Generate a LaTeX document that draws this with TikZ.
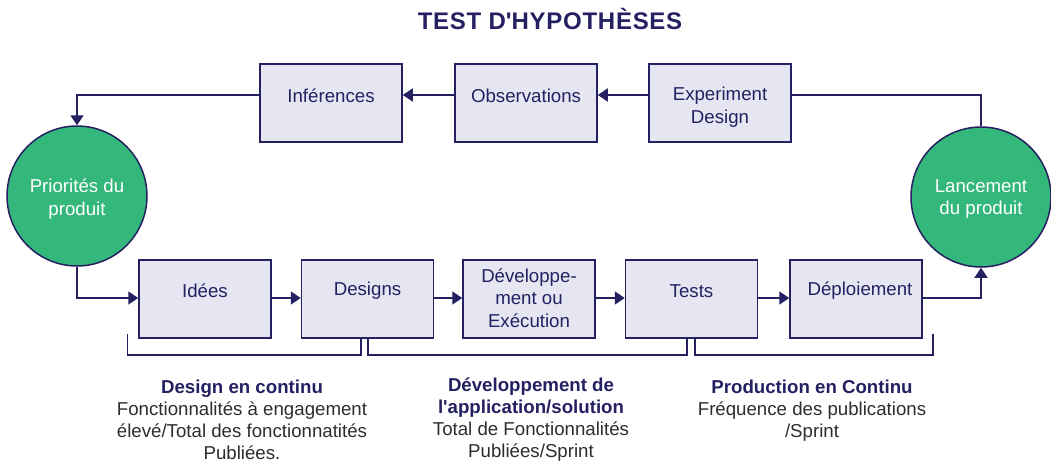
\documentclass[tikz,border=0pt]{standalone}
\usepackage{fontspec}
\setmainfont{Liberation Sans}
\usetikzlibrary{arrows.meta,calc}
\definecolor{navy}{RGB}{36,32,98}
\definecolor{boxfill}{RGB}{230,230,242}
\definecolor{grn}{RGB}{52,183,123}
\definecolor{txtgray}{RGB}{45,45,45}
\tikzset{
  stepbox/.style={draw=navy, line width=1.5pt, fill=boxfill, rectangle, minimum height=78pt, inner sep=0pt},
  topbox/.style={stepbox, minimum width=142pt},
  botbox/.style={stepbox, minimum width=132pt},
  boxtxt/.style={text=navy, font=\fontsize{18.67}{22.5}\selectfont, align=center, inner sep=0pt},
  circ/.style={draw=navy, line width=1.5pt, fill=grn, circle, minimum size=140pt, inner sep=0pt},
  circtxt/.style={text=white, font=\fontsize{18.67}{22.5}\selectfont, align=center, inner sep=0pt},
  conn/.style={draw=navy, line width=1.5pt},
  arr/.style={conn, -{Triangle[length=10pt,width=13pt]}},
  desc/.style={text=txtgray, font=\fontsize{18.67}{22}\selectfont, align=center, inner sep=0pt, anchor=north},
}
\begin{document}
\begin{tikzpicture}[x=1pt,y=-1pt]
\useasboundingbox (0,0) rectangle (1051,466);
% title
\node[text=navy, font=\fontsize{24}{28}\bfseries\addfontfeature{LetterSpace=3}\selectfont] (title) at (550,18.5) {TEST D\textquotesingle HYPOTHÈSES};
% top boxes
\node[topbox] (inf) at (331,103) {};
\node[topbox] (obs) at (526,103) {};
\node[topbox] (exp) at (720,103) {};
\node[boxtxt] (tinf) at (331,96) {Inférences};
\node[boxtxt] (tobs) at (526,96) {Observations};
\node[boxtxt] (texp) at (720,107) {Experiment\\Design};
% circles
\node[circ] (prio) at (77,196) {};
\node[circtxt] (tprio) at (77,199) {Priorités du\\produit};
\node[circ] (lanc) at (981,197) {};
\node[circtxt] (tlanc) at (981,199) {Lancement\\du produit};
% bottom boxes
\node[botbox] (ide) at (205,299) {};
\node[botbox] (des) at (367.5,299) {};
\node[botbox] (dev) at (529,299) {};
\node[botbox] (tes) at (691.5,299) {};
\node[botbox] (dep) at (856,299) {};
\node[boxtxt] (tide) at (205,291) {Idées};
\node[boxtxt] (tdes) at (367.5,291) {Designs};
\node[boxtxt] (tdev) at (529,298) {Développe-\\ment ou\\Exécution};
\node[boxtxt] (ttes) at (691.5,291) {Tests};
\node[boxtxt] (tdep) at (860,291) {Déploiement};
% top connectors
\draw[arr] ([yshift=8pt]exp.west) -- ([yshift=8pt]obs.east);
\draw[arr] ([yshift=8pt]obs.west) -- ([yshift=8pt]inf.east);
\draw[arr] ([yshift=8pt]inf.west) -| (prio.north);
\draw[conn] ([yshift=8pt]exp.east) -| (lanc.north);
% bottom connectors
\draw[arr] (prio.south) |- ([yshift=1pt]ide.west);
\draw[arr] ([yshift=1pt]ide.east) -- ([yshift=1pt]des.west);
\draw[arr] ([yshift=1pt]des.east) -- ([yshift=1pt]dev.west);
\draw[arr] ([yshift=1pt]dev.east) -- ([yshift=1pt]tes.west);
\draw[arr] ([yshift=1pt]tes.east) -- ([yshift=1pt]dep.west);
\draw[arr] ([yshift=1pt]dep.east) -| (lanc.south);
% brackets
\draw[conn] ([xshift=-11pt,yshift=5pt]ide.south west) -- ([xshift=-11pt,yshift=-16pt]ide.south west) -- ([xshift=-6.5pt,yshift=-16pt]des.south) -- ([xshift=-6.5pt]des.south);
\draw[conn] ([xshift=0.5pt]des.south) -- ([xshift=0.5pt,yshift=-16pt]des.south) -- ([xshift=-4.5pt,yshift=-16pt]tes.south) -- ([xshift=-4.5pt]tes.south);
\draw[conn] ([xshift=3.5pt]tes.south) -- ([xshift=3.5pt,yshift=-16pt]tes.south) -- ([xshift=10pt,yshift=-16pt]dep.south east) -- ([xshift=10pt,yshift=5pt]dep.south east);
% descriptions
\node[desc] (d1) at (242,379.5) {\textcolor{navy}{\bfseries Design en continu}\\Fonctionnalités à engagement\\élevé/Total des fonctionnatités\\Publiées.};
\node[desc] (d2) at (531,378) {\textcolor{navy}{\bfseries Développement de}\\\textcolor{navy}{\bfseries l\textquotesingle application/solution}\\Total de Fonctionnalités\\Publiées/Sprint};
\node[desc] (d3) at (812,379.5) {\textcolor{navy}{\bfseries Production en Continu}\\Fréquence des publications\\/Sprint};
\end{tikzpicture}
\end{document}
